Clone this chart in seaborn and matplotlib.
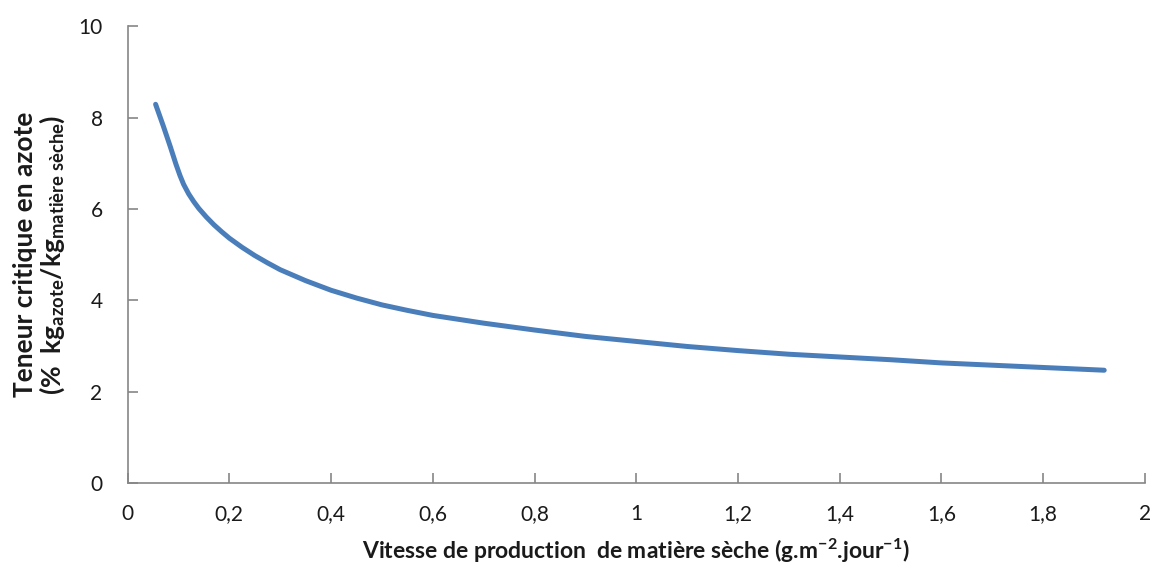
import matplotlib
matplotlib.use("Agg")
import matplotlib.pyplot as plt
import seaborn as sns
import pandas as pd

# Data
vitesse = [0.055, 0.07, 0.084, 0.095, 0.103, 0.11, 0.12, 0.13, 0.14, 0.155, 0.17, 0.185,
           0.2, 0.225, 0.25, 0.275, 0.3, 0.35, 0.4, 0.45, 0.5, 0.55, 0.6, 0.7,
           0.8, 0.9, 1.0, 1.1, 1.2, 1.3, 1.4, 1.5, 1.6, 1.7, 1.8, 1.92]
teneur = [8.29, 7.82, 7.36, 6.98, 6.73, 6.54, 6.33, 6.16, 6.01, 5.82, 5.65, 5.50,
          5.36, 5.16, 4.98, 4.82, 4.67, 4.43, 4.22, 4.05, 3.90, 3.78, 3.67, 3.50,
          3.35, 3.21, 3.10, 2.99, 2.90, 2.82, 2.76, 2.70, 2.63, 2.58, 2.53, 2.47]
x_ticks = [0, 0.2, 0.4, 0.6, 0.8, 1, 1.2, 1.4, 1.6, 1.8, 2]
x_ticklabels = ["0", "0,2", "0,4", "0,6", "0,8", "1", "1,2", "1,4", "1,6", "1,8", "2"]
y_ticks = [0, 2, 4, 6, 8, 10]
y_ticklabels = ["0", "2", "4", "6", "8", "10"]

df = pd.DataFrame({"vitesse": vitesse, "teneur": teneur})

sns.set_theme(style="white")
plt.rcParams["font.family"] = ["Lato", "DejaVu Sans"]
plt.rcParams["mathtext.fontset"] = "custom"
plt.rcParams["mathtext.rm"] = "Lato"
plt.rcParams["mathtext.bf"] = "Lato:bold"
plt.rcParams["mathtext.it"] = "Lato:italic"

fig = plt.figure(figsize=(11.56, 5.69), dpi=100)
ax = fig.add_axes([0.1104, 0.151, 0.880, 0.803])

sns.lineplot(data=df, x="vitesse", y="teneur", ax=ax, color="#4A7EBB",
             linewidth=3.6, solid_capstyle="round", solid_joinstyle="round")

ax.set_xlim(0, 2)
ax.set_ylim(0, 10)
ax.set_xticks(x_ticks)
ax.set_xticklabels(x_ticklabels)
ax.set_yticks(y_ticks)
ax.set_yticklabels(y_ticklabels)

for side in ["top", "right"]:
    ax.spines[side].set_visible(False)
for side in ["left", "bottom"]:
    ax.spines[side].set_color("#868686")
    ax.spines[side].set_linewidth(1.2)

ax.tick_params(axis="both", direction="in", length=7, width=1.2, color="#868686",
               labelsize=15, labelcolor="#1a1a1a", left=True, bottom=True)
ax.tick_params(axis="x", pad=15)
ax.tick_params(axis="y", pad=18)

ax.set_xlabel(r"Vitesse de production  de matière sèche (g.m$^{\mathbf{-2}}$.jour$^{\mathbf{-1}}$)",
              fontsize=16.5, fontweight="bold", color="#1a1a1a", labelpad=9)
ax.set_ylabel("Teneur critique en azote\n"
              r"(%  kg$_{\mathbf{azote}}$/kg$_{\mathbf{matière\ sèche}}$)",
              fontsize=19, fontweight="bold", color="#1a1a1a", labelpad=8,
              linespacing=1.05)

fig.savefig("out.png", dpi=100, facecolor="white")
